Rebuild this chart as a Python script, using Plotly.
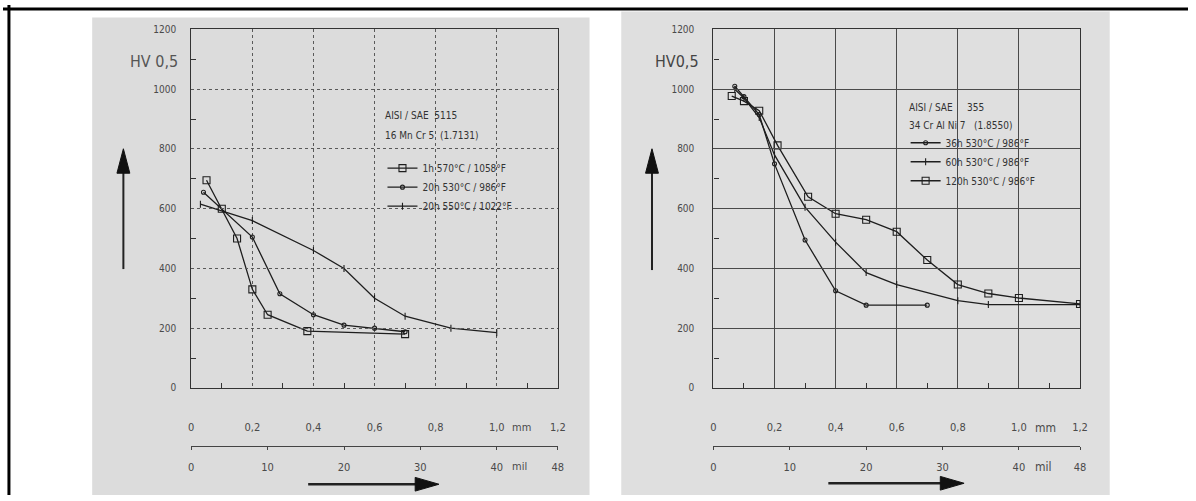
import plotly.graph_objects as go

W, H = 1196, 501

# ---------------- data ----------------
mm_ticks = [0, 0.2, 0.4, 0.6, 0.8, 1.0, 1.2]
mm_ticktext = ["0", "0,2", "0,4", "0,6", "0,8", "1,0", "1,2"]
mil_ticks = [0, 10, 20, 30, 40, 48]
mil_ticktext = ["0", "10", "20", "30", "40", "48"]
hv_ticks = [0, 200, 400, 600, 800, 1000, 1200]

# Left chart: AISI/SAE 5115, 16 MnCr 5 (1.7131)
left_names = ["1h 570°C / 1058°F", "20h 530°C / 986°F", "20h 550°C / 1022°F"]
left_1h_x = [0.05, 0.10, 0.15, 0.20, 0.25, 0.38, 0.70]
left_1h_y = [695, 600, 500, 330, 245, 190, 180]
left_20h530_x = [0.04, 0.20, 0.29, 0.40, 0.50, 0.60, 0.70]
left_20h530_y = [655, 505, 315, 245, 210, 200, 188]
left_20h550_x = [0.03, 0.20, 0.40, 0.50, 0.60, 0.70, 0.85, 1.00]
left_20h550_y = [615, 560, 460, 400, 300, 240, 200, 185]

# Right chart: AISI/SAE 355, 34 CrAlNi 7 (1.8550)
right_names = ["36h 530°C / 986°F", "60h 530°C / 986°F", "120h 530°C / 986°F"]
r36_x = [0.07, 0.10, 0.15, 0.20, 0.30, 0.40, 0.50, 0.70]
r36_y = [1010, 975, 915, 750, 495, 325, 277, 277]
r60_x = [0.07, 0.10, 0.15, 0.20, 0.30, 0.40, 0.50, 0.60, 0.80, 0.90, 1.20]
r60_y = [1000, 970, 905, 780, 605, 488, 386, 346, 292, 279, 279]
r120_x = [0.06, 0.10, 0.15, 0.21, 0.31, 0.40, 0.50, 0.60, 0.70, 0.80, 0.90, 1.00, 1.20]
r120_y = [977, 960, 928, 812, 640, 583, 563, 523, 428, 346, 316, 301, 281]

# ---------------- helpers ----------------
def px(x):
    return x / W

def py(y):
    return 1 - y / H

FONT = "Liberation Sans Narrow, DejaVu Sans Condensed, Arial Narrow, sans-serif"
INK = "#1e1e1e"
TXT = "#4a4a4a"

fig = go.Figure()

def add_series(x, y, name, xa, ya, legend, symbol, msize):
    fig.add_trace(go.Scatter(
        x=x, y=y, name=name, mode="lines+markers", xaxis=xa, yaxis=ya,
        legend=legend,
        line=dict(color=INK, width=1.3),
        marker=dict(symbol=symbol, size=msize, color=INK,
                    line=dict(color=INK, width=1.1)),
    ))

add_series(left_1h_x, left_1h_y, left_names[0], "x", "y", "legend", "square-open", 7)
add_series(left_20h530_x, left_20h530_y, left_names[1], "x", "y", "legend", "circle-open", 4)
add_series(left_20h550_x, left_20h550_y, left_names[2], "x", "y", "legend", "line-ns-open", 5)

add_series(r36_x, r36_y, right_names[0], "x2", "y2", "legend2", "circle-open", 4)
add_series(r60_x, r60_y, right_names[1], "x2", "y2", "legend2", "line-ns-open", 5)
add_series(r120_x, r120_y, right_names[2], "x2", "y2", "legend2", "square-open", 7)

# invisible traces so that the secondary (mil) axes are drawn
for xa, ya in (("x3", "y"), ("x4", "y2")):
    fig.add_trace(go.Scatter(x=mil_ticks, y=[0] * len(mil_ticks), xaxis=xa, yaxis=ya,
                             mode="markers", marker=dict(opacity=0), showlegend=False,
                             hoverinfo="skip"))

ydom = [py(391.5), py(25)]
left_dom = [px(190), px(560)]
right_dom = [px(717), px(1087)]

def xaxis(dom, anchor, dash, gcol):
    return dict(
        domain=dom, anchor=anchor, range=[0, 1.2],
        tickmode="array", tickvals=mm_ticks, ticktext=mm_ticktext,
        showgrid=True, gridcolor=gcol, gridwidth=1, griddash=dash,
        showline=True, linecolor="#333", linewidth=1.2, mirror=True,
        ticks="", ticklabelstandoff=29,
        minor=dict(tickvals=[0.1, 0.3, 0.5, 0.7, 0.9, 1.1], ticks="inside",
                   ticklen=5, tickcolor="#333", showgrid=False),
        tickfont=dict(family=FONT, size=11, color=TXT),
        zeroline=False, fixedrange=True,
    )

def yaxis(anchor, dash, gcol, standoff):
    return dict(
        domain=ydom, anchor=anchor, range=[0, 1200],
        tickmode="array", tickvals=hv_ticks,
        showgrid=True, gridcolor=gcol, gridwidth=1, griddash=dash,
        showline=True, linecolor="#333", linewidth=1.2, mirror=True,
        ticks="", ticklabelstandoff=standoff,
        minor=dict(tickvals=[100, 300, 500, 700, 900, 1100], ticks="inside",
                   ticklen=5, tickcolor="#333", showgrid=False),
        tickfont=dict(family=FONT, size=10, color=TXT),
        zeroline=False, fixedrange=True,
    )

def milaxis(dom):
    return dict(
        domain=dom, anchor="free", position=py(451), range=[0, 48],
        tickmode="array", tickvals=mil_ticks, ticktext=mil_ticktext,
        showgrid=False, showline=True, linecolor="#444", linewidth=1.2,
        ticks="outside", ticklen=3, tickcolor="#444", ticklabelstandoff=8,
        tickfont=dict(family=FONT, size=11, color=TXT),
        zeroline=False, fixedrange=True,
    )

fig.update_layout(
    width=W, height=H,
    margin=dict(l=0, r=0, t=0, b=0),
    paper_bgcolor="white", plot_bgcolor="rgba(0,0,0,0)",
    xaxis=xaxis(left_dom, "y", "dot", "#5a5a5a"),
    yaxis=yaxis("x", "dot", "#5a5a5a", 12),
    xaxis2=xaxis(right_dom, "y2", "solid", "#4a4a4a"),
    yaxis2=yaxis("x2", "solid", "#4a4a4a", 16),
    xaxis3=milaxis(left_dom),
    xaxis4=milaxis(right_dom),
    legend=dict(x=px(383), y=py(152), xanchor="left", yanchor="top",
                bgcolor="rgba(0,0,0,0)", font=dict(family=FONT, size=10, color="#333"),
                itemwidth=30, tracegroupgap=0, itemclick=False),
    legend2=dict(x=px(911), y=py(126), xanchor="left", yanchor="top",
                 bgcolor="rgba(0,0,0,0)", font=dict(family=FONT, size=10, color="#333"),
                 itemwidth=30, tracegroupgap=0, itemclick=False),
    showlegend=True,
)

shapes = []
# scanned paper backgrounds
shapes.append(dict(type="rect", xref="paper", yref="paper", x0=px(90), x1=px(592),
                   y0=0, y1=py(12.7), fillcolor="#dcdcdc", line=dict(width=0), layer="below"))
shapes.append(dict(type="rect", xref="paper", yref="paper", x0=px(624), x1=px(1117),
                   y0=0, y1=py(6.7), fillcolor="#dfdfdf", line=dict(width=0), layer="below"))
# outer frame
shapes.append(dict(type="line", xref="paper", yref="paper", x0=0, x1=1, y0=py(4), y1=py(4),
                   line=dict(color="black", width=3)))
shapes.append(dict(type="line", xref="paper", yref="paper", x0=px(6), x1=px(6), y0=0, y1=1,
                   line=dict(color="black", width=3)))

def varrow(xc, ytop, ybot):
    shapes.append(dict(type="line", xref="paper", yref="paper", x0=px(xc), x1=px(xc),
                       y0=py(ybot), y1=py(ytop + 20), line=dict(color="#222", width=2)))
    path = "M {} {} L {} {} L {} {} Z".format(px(xc - 6.5), py(ytop + 25), px(xc), py(ytop),
                                             px(xc + 6.5), py(ytop + 25))
    shapes.append(dict(type="path", xref="paper", yref="paper", path=path,
                       fillcolor="#111", line=dict(color="#111", width=1)))

def harrow(yc, xl, xr):
    shapes.append(dict(type="line", xref="paper", yref="paper", x0=px(xl), x1=px(xr - 20),
                       y0=py(yc), y1=py(yc), line=dict(color="#222", width=2.5)))
    path = "M {} {} L {} {} L {} {} Z".format(px(xr - 24), py(yc - 7), px(xr), py(yc),
                                             px(xr - 24), py(yc + 7))
    shapes.append(dict(type="path", xref="paper", yref="paper", path=path,
                       fillcolor="#111", line=dict(color="#111", width=1)))

varrow(121.5, 147, 270)
varrow(655, 147, 271)
harrow(490, 308, 440)
harrow(489, 833, 970)
fig.update_layout(shapes=shapes)

ann = []
def text(x, y, s, size=10, anchor="left", color="#333"):
    ann.append(dict(x=px(x), y=py(y), xref="paper", yref="paper", text=s, showarrow=False,
                    xanchor=anchor, yanchor="middle",
                    font=dict(family=FONT, size=size, color=color)))

text(179, 58, "HV 0,5", 16, "right", "#555")
text(704, 58, "HV0,5", 16, "right", "#444")
text(384, 113, "AISI / SAE  5115")
text(384, 133, "16 Mn Cr 5  (1.7131)")
text(912, 105, "AISI / SAE     355")
text(912, 123, "34 Cr Al Ni 7   (1.8550)")
text(512, 432, "mm", 11, "left", TXT)
text(1040, 432, "mm", 12, "left", TXT)
text(512, 472, "mil", 11, "left", TXT)
text(1040, 472, "mil", 12, "left", TXT)
fig.update_layout(annotations=ann)

fig.write_html("out.html", config={"displayModeBar": False},
               post_script="document.body.style.margin='0';")
